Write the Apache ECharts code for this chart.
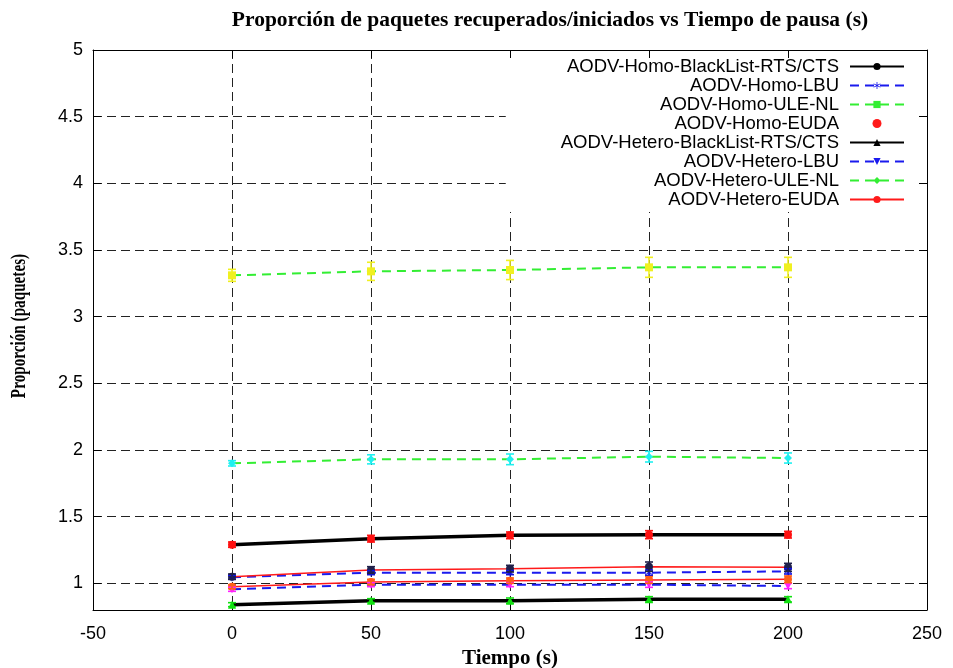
<!DOCTYPE html>
<html>
<head>
<meta charset="utf-8">
<script src="https://cdn.jsdelivr.net/npm/echarts@6/dist/echarts.min.js"></script>
<style>
  html, body { margin: 0; padding: 0; background: #ffffff; }
  #chart { width: 953px; height: 668px; }
</style>
</head>
<body>
<div id="chart"></div>
<script>
// Pause times (s) on the x axis
const pauseTimes = [0, 50, 100, 150, 200];
const xTicks = [-50, 0, 50, 100, 150, 200, 250];
const yTicks = [1, 1.5, 2, 2.5, 3, 3.5, 4, 4.5, 5];

// Ratio of recovered / initiated packets for each protocol variant
const homoBlackList   = [1.29, 1.335, 1.36, 1.365, 1.365];
const homoLBU         = [1.045, 1.08, 1.08, 1.08, 1.09];
const homoULENL       = [3.31, 3.34, 3.35, 3.37, 3.37];
const homoEUDA        = [1.05, 1.10, 1.11, 1.125, 1.12];
const heteroBlackList = [0.84, 0.87, 0.87, 0.88, 0.88];
const heteroLBU       = [0.955, 0.99, 0.99, 0.99, 0.98];
const heteroULENL     = [1.90, 1.93, 1.93, 1.95, 1.94];
const heteroEUDA      = [0.975, 1.01, 1.02, 1.025, 1.03];

// Half-width of the error bars
const homoBlackListErr   = [0.02, 0.025, 0.025, 0.03, 0.025];
const homoLBUErr         = [0.015, 0.015, 0.015, 0.02, 0.02];
const homoULENLErr       = [0.045, 0.068, 0.072, 0.075, 0.075];
const homoEUDAErr        = [0.02, 0.025, 0.025, 0.035, 0.03];
const heteroBlackListErr = [0.015, 0.015, 0.02, 0.02, 0.02];
const heteroLBUErr       = [0.015, 0.015, 0.015, 0.02, 0.02];
const heteroULENLErr     = [0.02, 0.034, 0.04, 0.04, 0.038];
const heteroEUDAErr      = [0.015, 0.02, 0.02, 0.025, 0.025];

const names = [
  'AODV-Homo-BlackList-RTS/CTS',
  'AODV-Homo-LBU',
  'AODV-Homo-ULE-NL',
  'AODV-Homo-EUDA',
  'AODV-Hetero-BlackList-RTS/CTS',
  'AODV-Hetero-LBU',
  'AODV-Hetero-ULE-NL',
  'AODV-Hetero-EUDA'
];

const ASTERISK = 'path://M4.5,0h1v4.1l3.5,-2l0.5,0.9l-3.5,2l3.5,2l-0.5,0.9l-3.5,-2v4.1h-1v-4.1l-3.5,2l-0.5,-0.9l3.5,-2l-3.5,-2l0.5,-0.9l3.5,2z';

// line colour, line width, dashed?, symbol, marker colour, rotate
const styles = [
  { line: '#000000', width: 3.5, dash: false, symbol: 'circle',   marker: '#ff1010', rot: 0 },
  { line: '#1a1aee', width: 2,   dash: true,  symbol: ASTERISK,   marker: '#1010e0', rot: 0 },
  { line: '#33ee33', width: 2,   dash: true,  symbol: 'rect',     marker: '#f0f020', rot: 0 },
  { line: '#ff1a1a', width: 1.5, dash: false, symbol: 'circle',   marker: '#20204a', rot: 0 },
  { line: '#000000', width: 3.5, dash: false, symbol: 'triangle', marker: '#10e010', rot: 0 },
  { line: '#1a1aee', width: 2,   dash: true,  symbol: 'triangle', marker: '#ff20ff', rot: 180 },
  { line: '#33ee33', width: 2,   dash: true,  symbol: 'diamond',  marker: '#20f0f0', rot: 0 },
  { line: '#ff1a1a', width: 1.5, dash: false, symbol: 'circle',   marker: '#ff6018', rot: 0 }
];

const values = [homoBlackList, homoLBU, homoULENL, homoEUDA,
                heteroBlackList, heteroLBU, heteroULENL, heteroEUDA];
const errors = [homoBlackListErr, homoLBUErr, homoULENLErr, homoEUDAErr,
                heteroBlackListErr, heteroLBUErr, heteroULENLErr, heteroEUDAErr];

const tickFont = "'Liberation Sans Narrow', 'Liberation Sans', Arial, sans-serif";
const serifFont = "'Liberation Serif', 'Times New Roman', serif";
const gridDash = { color: '#222', width: 1, type: [9, 5] };

const series = [];
names.forEach(function (name, i) {
  const st = styles[i];
  series.push({
    name: name,
    type: 'line',
    data: pauseTimes.map(function (x, k) { return [x, values[i][k]]; }),
    symbol: st.symbol,
    symbolRotate: st.rot,
    symbolSize: 8,
    showSymbol: true,
    lineStyle: { color: st.line, width: st.width, type: st.dash ? [9, 6] : 'solid' },
    itemStyle: { color: st.marker },
    emphasis: { disabled: true },
    z: 2 + i * 0.01,
    animation: false
  });
  // error bars, drawn in the marker colour
  series.push({
    type: 'custom',
    name: name + ' err',
    data: pauseTimes.map(function (x, k) { return [x, values[i][k] - errors[i][k], values[i][k] + errors[i][k]]; }),
    encode: { x: 0, y: [1, 2] },
    silent: true,
    z: 3,
    renderItem: function (params, api) {
      const lo = api.coord([api.value(0), api.value(1)]);
      const hi = api.coord([api.value(0), api.value(2)]);
      const hw = 4;
      const style = { stroke: st.marker, lineWidth: 1.6, fill: null };
      return {
        type: 'group',
        children: [
          { type: 'line', shape: { x1: lo[0], y1: lo[1], x2: hi[0], y2: hi[1] }, style: style },
          { type: 'line', shape: { x1: lo[0] - hw, y1: lo[1], x2: lo[0] + hw, y2: lo[1] }, style: style },
          { type: 'line', shape: { x1: hi[0] - hw, y1: hi[1], x2: hi[0] + hw, y2: hi[1] }, style: style }
        ]
      };
    },
    animation: false
  });
});

const legendData = names.map(function (name, i) {
  const item = { name: name, itemStyle: { color: styles[i].line } };
  if (i === 3) { item.icon = 'circle'; }
  return item;
});

const chart = echarts.init(document.getElementById('chart'), null, { renderer: 'canvas' });
chart.setOption({
  animation: false,
  backgroundColor: '#ffffff',
  title: {
    text: 'Proporción de paquetes recuperados/iniciados vs Tiempo de pausa (s)',
    left: 545,
    textAlign: 'center',
    top: 4,
    textStyle: { fontFamily: serifFont, fontWeight: 'bold', fontSize: 21.5, color: '#000' }
  },
  graphic: [
    {
      type: 'text',
      x: 20,
      y: 326,
      rotation: Math.PI / 2,
      scaleX: 0.76,
      style: {
        text: 'Proporción (paquetes)',
        fontFamily: serifFont,
        fontWeight: 'bold',
        fontSize: 20,
        fill: '#000',
        align: 'center',
        verticalAlign: 'middle'
      }
    }
  ],
  grid: { left: 93, right: 26, top: 50, bottom: 58, containLabel: false, outerBoundsMode: 'none' },
  legend: {
    data: legendData,
    orient: 'vertical',
    align: 'right',
    right: 28,
    top: 53,
    padding: [4, 20, 3, 55],
    backgroundColor: '#ffffff',
    itemWidth: 54,
    itemHeight: 9,
    itemGap: 0,
    selectedMode: false,
    textStyle: { fontFamily: "'Liberation Sans', Arial, sans-serif", fontSize: 18.5, color: '#000',
                 lineHeight: 19, padding: [0, 6, 0, 0] }
  },
  xAxis: [
    {
      type: 'value', min: -50, max: 250, interval: 50,
      name: 'Tiempo (s)', nameLocation: 'middle', nameGap: 36,
      nameTextStyle: { fontFamily: serifFont, fontWeight: 'bold', fontSize: 21, color: '#000' },
      axisLine: { show: true, onZero: false, lineStyle: { color: '#000', width: 1 } },
      axisTick: { show: true, inside: true, length: 8, lineStyle: { color: '#000' } },
      axisLabel: { margin: 15, fontFamily: tickFont, fontSize: 18, color: '#000',
                   customValues: xTicks },
      splitLine: { show: true, lineStyle: gridDash }
    },
    {
      type: 'value', min: -50, max: 250, interval: 50, position: 'top', z: 10,
      axisLine: { show: true, onZero: false, lineStyle: { color: '#000', width: 1 } },
      axisTick: { show: true, inside: true, length: 8, lineStyle: { color: '#000' } },
      axisLabel: { show: false },
      splitLine: { show: false }
    }
  ],
  yAxis: [
    {
      type: 'value', min: 0.8, max: 5,
      axisLine: { show: true, onZero: false, lineStyle: { color: '#000', width: 1 } },
      axisTick: { show: true, inside: true, length: 8, customValues: yTicks, lineStyle: { color: '#000' } },
      axisLabel: { margin: 10, fontFamily: tickFont, fontSize: 18, color: '#000', customValues: yTicks },
      splitLine: { show: true, lineStyle: gridDash }
    },
    {
      type: 'value', min: 0.8, max: 5, position: 'right', z: 10,
      axisLine: { show: true, onZero: false, lineStyle: { color: '#000', width: 1 } },
      axisTick: { show: true, inside: true, length: 8, customValues: yTicks, lineStyle: { color: '#000' } },
      axisLabel: { show: false, customValues: yTicks },
      splitLine: { show: false }
    }
  ],
  series: series
});
</script>
</body>
</html>
